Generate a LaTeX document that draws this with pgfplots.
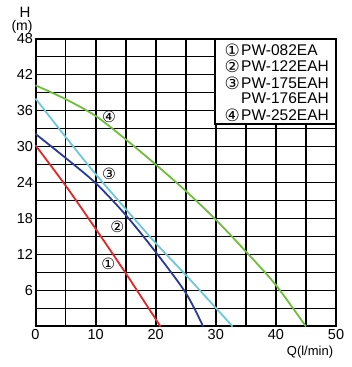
\documentclass[border=0pt]{standalone}
\usepackage{pgfplots}
\pgfplotsset{compat=1.18}
\usepackage{fontspec}
\setmainfont{Liberation Sans}
\newfontfamily\sym{DejaVu Sans}
\definecolor{cred}{RGB}{228,38,40}
\definecolor{cblue}{RGB}{40,60,150}
\definecolor{ccyan}{RGB}{110,200,220}
\definecolor{cgreen}{RGB}{110,190,60}
\begin{document}
\begin{tikzpicture}
\useasboundingbox (-35.5pt,-40.5pt) rectangle (315.5pt,326.5pt);
\begin{axis}[scale only axis, width=300.5pt, height=288pt, at={(0,0)}, anchor=south west,
  xmin=0, xmax=50, ymin=0, ymax=48,
  xtick={0,10,...,50}, ytick={6,12,...,48},
  minor xtick={5,15,...,45}, minor ytick={3,9,...,45},
  grid=both,
  major grid style={black, line width=1.8pt},
  minor grid style={black, line width=1.8pt},
  axis line style={line width=2pt},
  tick style={draw=none},
  ticklabel style={font=\fontsize{14.5}{15}\selectfont},
  yticklabel style={xshift=1pt},
  xticklabel style={yshift=1pt},
  /pgf/number format/assume math mode=true,
  clip=false]
\addplot[cred, line width=1.8pt, smooth] coordinates {(0,30.2) (5,23.5) (10,16.3) (15,8.9) (20.8,0)};
\addplot[cblue, line width=1.8pt, smooth] coordinates {(0,32.1) (5,28.1) (10,23.9) (15,18.6) (20,12.4) (25,5.6) (27.9,0)};
\addplot[ccyan, line width=1.8pt, smooth] coordinates {(0,38) (5,31.6) (10,25.4) (15,19.6) (20,13.9) (25,8.6) (30,3.1) (32.8,0)};
\addplot[cgreen, line width=1.8pt, smooth] coordinates {(0,40.2) (5,37.9) (10,35.1) (15,31.2) (20,27.0) (25,22.6) (30,17.8) (35,12.5) (40,6.9) (45,0)};
\node[inner sep=0pt, font=\sym\fontsize{15.5}{16}\selectfont] at (axis cs:12.1,10.5) {①};
\node[inner sep=0pt, font=\sym\fontsize{15.5}{16}\selectfont] at (axis cs:13.6,16.6) {②};
\node[inner sep=0pt, font=\sym\fontsize{15.5}{16}\selectfont] at (axis cs:12.25,25.4) {③};
\node[inner sep=0pt, font=\sym\fontsize{15.5}{16}\selectfont] at (axis cs:12.25,34.9) {④};
\draw[fill=white, line width=1.8pt] (axis cs:29.9,33.7) rectangle (axis cs:50,48);
\draw[line width=2pt] (axis cs:29.9,48) -- (axis cs:50,48) -- (axis cs:50,33.7);
\node[inner sep=0pt, font=\sym\fontsize{17}{17}\selectfont] at (axis cs:32.75,46.0) {①};
\node[inner sep=0pt, font=\sym\fontsize{17}{17}\selectfont] at (axis cs:32.75,43.4) {②};
\node[inner sep=0pt, font=\sym\fontsize{17}{17}\selectfont] at (axis cs:32.75,40.6) {③};
\node[inner sep=0pt, font=\sym\fontsize{17}{17}\selectfont] at (axis cs:32.75,35.2) {④};
\node[anchor=west, inner sep=0pt, font=\fontsize{15.5}{15.5}\selectfont] at (axis cs:34.2,46.0) {PW-082EA};
\node[anchor=west, inner sep=0pt, font=\fontsize{15.5}{15.5}\selectfont] at (axis cs:34.2,43.4) {PW-122EAH};
\node[anchor=west, inner sep=0pt, font=\fontsize{15.5}{15.5}\selectfont] at (axis cs:34.2,40.6) {PW-175EAH};
\node[anchor=west, inner sep=0pt, font=\fontsize{15.5}{15.5}\selectfont] at (axis cs:34.2,38.0) {PW-176EAH};
\node[anchor=west, inner sep=0pt, font=\fontsize{15.5}{15.5}\selectfont] at (axis cs:34.2,35.2) {PW-252EAH};
\end{axis}
\node[inner sep=0pt, font=\fontsize{15}{15}\selectfont] at (-10.5pt,314.5pt) {H};
\node[inner sep=0pt, font=\fontsize{14}{14}\selectfont] at (-13.5pt,300pt) {(m)};
\node[inner sep=0pt, font=\fontsize{13}{13}\selectfont] at (274.5pt,-25.5pt) {Q(l/min)};
\end{tikzpicture}
\end{document}
